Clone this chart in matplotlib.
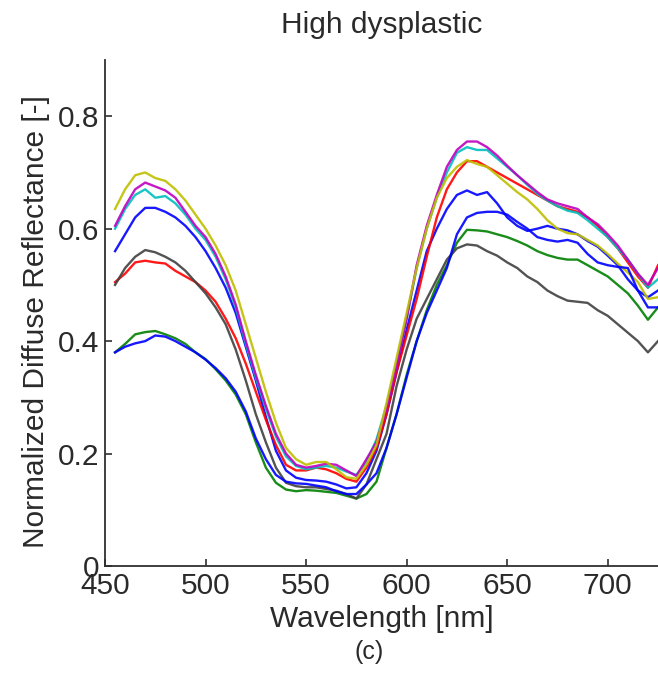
import matplotlib.pyplot as plt
from matplotlib.ticker import FuncFormatter

plt.rcParams['font.family'] = ['Liberation Sans', 'DejaVu Sans']

# Wavelength grid (nm) shared by all spectra
wavelength = list(range(455, 730, 5))

# Spectra, one list per curve (MATLAB colour order b g r c m y k b)
blue_a = [0.56, 0.59, 0.62, 0.637, 0.637, 0.63, 0.62, 0.605, 0.585, 0.56,
          0.53, 0.495, 0.45, 0.39, 0.33, 0.265, 0.205, 0.17, 0.157, 0.153,
          0.152, 0.15, 0.145, 0.138, 0.14, 0.165, 0.205, 0.27, 0.345, 0.42,
          0.49, 0.56, 0.60, 0.635, 0.66, 0.668, 0.66, 0.665, 0.645, 0.62,
          0.605, 0.596, 0.60, 0.605, 0.60, 0.597, 0.59, 0.578, 0.568, 0.552,
          0.535, 0.51, 0.49, 0.478, 0.49]
green = [0.38, 0.395, 0.412, 0.416, 0.418, 0.412, 0.405, 0.395, 0.38, 0.368,
         0.35, 0.33, 0.305, 0.27, 0.22, 0.175, 0.148, 0.136, 0.133, 0.135,
         0.134, 0.132, 0.13, 0.125, 0.12, 0.128, 0.15, 0.21, 0.27, 0.34,
         0.40, 0.455, 0.50, 0.535, 0.575, 0.598, 0.597, 0.595, 0.59, 0.585,
         0.578, 0.57, 0.56, 0.553, 0.548, 0.545, 0.545, 0.535, 0.525, 0.515,
         0.50, 0.485, 0.463, 0.438, 0.46]
red = [0.505, 0.52, 0.54, 0.543, 0.54, 0.538, 0.525, 0.515, 0.505, 0.49,
       0.47, 0.44, 0.405, 0.36, 0.31, 0.26, 0.215, 0.18, 0.17, 0.17,
       0.175, 0.172, 0.165, 0.155, 0.15, 0.175, 0.21, 0.27, 0.345, 0.41,
       0.475, 0.55, 0.62, 0.67, 0.70, 0.72, 0.72, 0.71, 0.70, 0.69,
       0.68, 0.67, 0.66, 0.65, 0.64, 0.635, 0.63, 0.62, 0.605, 0.585,
       0.565, 0.54, 0.515, 0.495, 0.535]
cyan = [0.60, 0.635, 0.66, 0.67, 0.655, 0.658, 0.645, 0.625, 0.60, 0.58,
        0.55, 0.51, 0.46, 0.395, 0.335, 0.28, 0.23, 0.195, 0.178, 0.172,
        0.175, 0.178, 0.175, 0.168, 0.162, 0.185, 0.225, 0.285, 0.36, 0.44,
        0.53, 0.60, 0.655, 0.70, 0.735, 0.745, 0.74, 0.74, 0.725, 0.71,
        0.695, 0.678, 0.662, 0.65, 0.64, 0.632, 0.628, 0.615, 0.60, 0.585,
        0.565, 0.545, 0.52, 0.495, 0.51]
magenta = [0.605, 0.64, 0.67, 0.682, 0.675, 0.668, 0.655, 0.63, 0.605, 0.585,
           0.555, 0.515, 0.465, 0.40, 0.34, 0.285, 0.235, 0.20, 0.18, 0.175,
           0.178, 0.182, 0.18, 0.17, 0.16, 0.19, 0.22, 0.28, 0.355, 0.44,
           0.535, 0.605, 0.66, 0.71, 0.74, 0.755, 0.755, 0.745, 0.73, 0.712,
           0.695, 0.68, 0.665, 0.652, 0.645, 0.64, 0.635, 0.62, 0.608, 0.59,
           0.57, 0.545, 0.52, 0.50, 0.53]
yellow = [0.635, 0.67, 0.695, 0.70, 0.69, 0.685, 0.67, 0.65, 0.625, 0.60,
          0.57, 0.535, 0.49, 0.43, 0.37, 0.31, 0.255, 0.21, 0.19, 0.18,
          0.185, 0.185, 0.172, 0.158, 0.155, 0.18, 0.215, 0.29, 0.37, 0.45,
          0.53, 0.60, 0.655, 0.69, 0.71, 0.722, 0.715, 0.71, 0.695, 0.68,
          0.665, 0.652, 0.635, 0.615, 0.60, 0.592, 0.59, 0.58, 0.57, 0.555,
          0.538, 0.522, 0.505, 0.475, 0.478]
black = [0.50, 0.53, 0.55, 0.562, 0.558, 0.55, 0.54, 0.525, 0.505, 0.485,
         0.46, 0.43, 0.385, 0.33, 0.27, 0.22, 0.175, 0.148, 0.142, 0.14,
         0.14, 0.137, 0.134, 0.128, 0.12, 0.145, 0.19, 0.235, 0.32, 0.385,
         0.44, 0.475, 0.51, 0.545, 0.565, 0.572, 0.57, 0.56, 0.552, 0.54,
         0.53, 0.515, 0.505, 0.49, 0.48, 0.472, 0.47, 0.468, 0.455, 0.445,
         0.43, 0.415, 0.40, 0.38, 0.40]
blue_b = [0.38, 0.39, 0.396, 0.40, 0.41, 0.408, 0.40, 0.39, 0.38, 0.367,
          0.352, 0.334, 0.31, 0.275, 0.227, 0.19, 0.162, 0.15, 0.147, 0.146,
          0.143, 0.14, 0.133, 0.128, 0.128, 0.145, 0.165, 0.21, 0.27, 0.335,
          0.40, 0.45, 0.49, 0.53, 0.59, 0.62, 0.628, 0.63, 0.63, 0.625,
          0.612, 0.60, 0.585, 0.58, 0.577, 0.58, 0.575, 0.555, 0.54, 0.535,
          0.532, 0.53, 0.49, 0.46, 0.46]

spectra = [blue_a, green, red, cyan, magenta, yellow, black, blue_b]
colors = ['#0000ff', '#008000', '#ff0000', '#00bfbf', '#bf00bf', '#bfbf00', '#404040', '#0000ff']

fig = plt.figure(figsize=(6.58, 6.73), dpi=100)
ax = fig.add_axes([105 / 658, 107 / 673, 553 / 658, 506 / 673])

for s, c in zip(spectra, colors):
    ax.plot(wavelength, s, color=c, lw=1.7, alpha=0.9)

ax.set_xlim(450, 725)
ax.set_ylim(0, 0.9)
ax.set_xticks([450, 500, 550, 600, 650, 700])
ax.set_yticks([0, 0.2, 0.4, 0.6, 0.8])
ax.yaxis.set_major_formatter(FuncFormatter(lambda v, p: '0' if v == 0 else '%.1f' % v))

for side in ['top', 'right']:
    ax.spines[side].set_visible(False)
for side in ['left', 'bottom']:
    ax.spines[side].set_color('#303030')
    ax.spines[side].set_linewidth(1.3)

ax.tick_params(direction='in', length=5, width=1.2, color='#303030',
               labelsize=21.5, labelcolor='#2a2a2a', pad=4)

ax.set_xlabel('Wavelength [nm]', fontsize=21.5, color='#2a2a2a')
ax.set_ylabel('Normalized Diffuse Reflectance [-]', fontsize=21.5, color='#2a2a2a')
ax.xaxis.set_label_coords(0.5, -0.078)
ax.yaxis.set_label_coords(-0.10, 0.484)

fig.text(382 / 658, 1 - 25 / 673, 'High dysplastic', fontsize=21.5,
         color='#2a2a2a', ha='center', va='center')
fig.text(369 / 658, 1 - 652 / 673, '(c)', fontsize=18,
         color='#2a2a2a', ha='center', va='center')

fig.savefig('out.png', dpi=100)
